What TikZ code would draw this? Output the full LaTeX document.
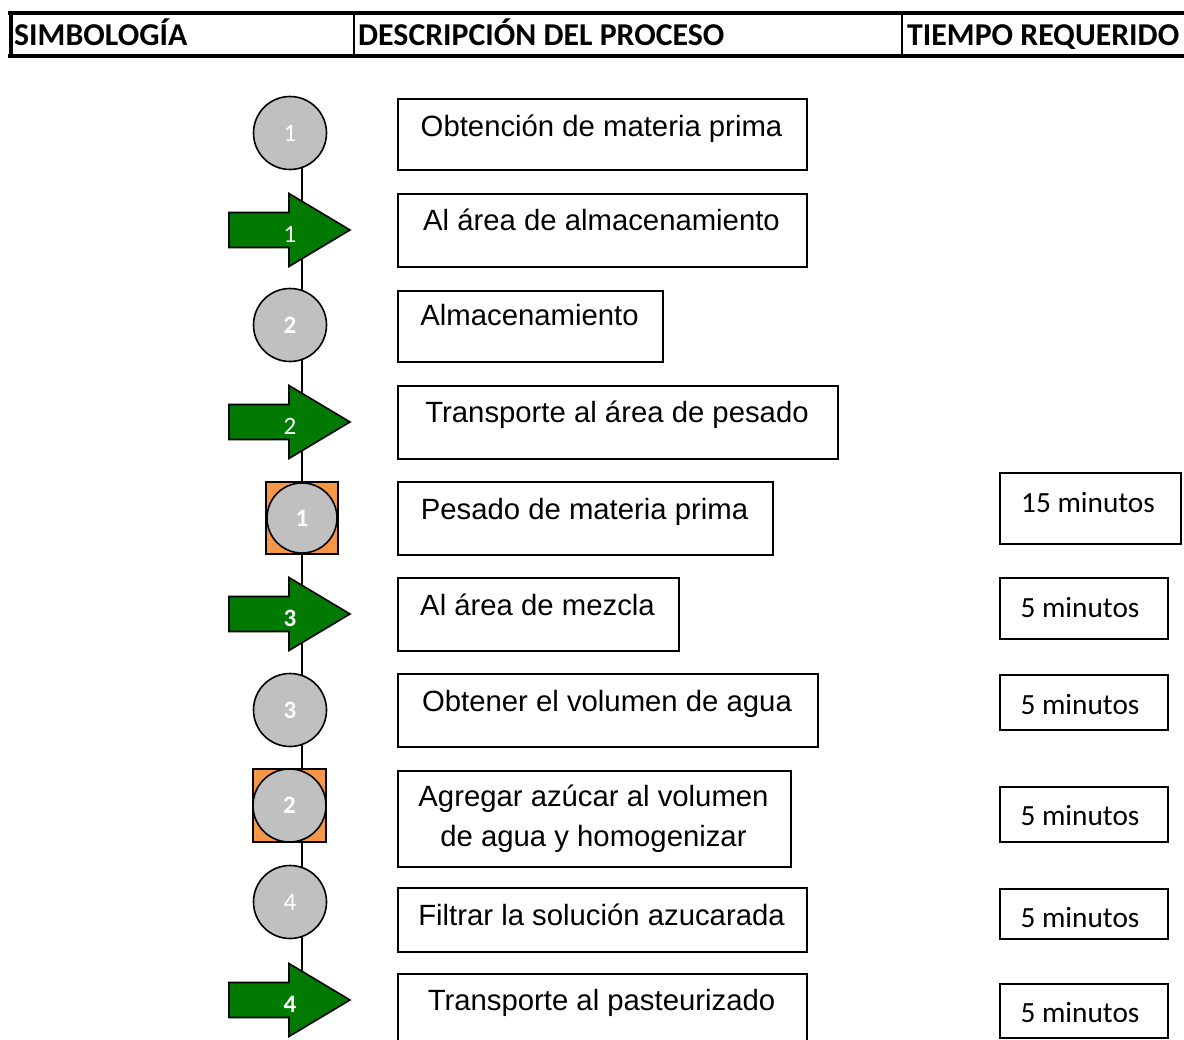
\documentclass[tikz,border=0pt]{standalone}
\usepackage{fontspec}
\setmainfont{Liberation Sans}
\newfontfamily\calib{Carlito}
\usetikzlibrary{backgrounds}
\definecolor{symgray}{RGB}{192,192,192}
\definecolor{symgreen}{RGB}{0,122,0}
\definecolor{symorange}{RGB}{247,150,70}
\tikzset{
  circsym/.style={circle, draw, line width=1.6pt, fill=symgray, minimum size=73pt, inner sep=0pt},
  sqsym/.style={rectangle, draw, line width=1.6pt, fill=symorange, minimum size=72pt, inner sep=0pt},
  numn/.style={text=white, font=\calib\fontsize{25}{25}\selectfont, inner sep=0pt},
  numb/.style={text=white, font=\calib\bfseries\fontsize{25}{25}\selectfont, inner sep=0pt},
  arrsym/.style={fill=symgreen, draw=black, line width=1.6pt, line join=miter},
  pbox/.style={draw, line width=1.6pt, rectangle, inner sep=0pt, anchor=north west},
  ptext/.style={font=\fontsize{29.3}{40}\selectfont, inner sep=0pt, anchor=base},
  ttext/.style={font=\calib\fontsize{29.3}{33}\selectfont, inner sep=0pt, anchor=base},
  htext/.style={font=\calib\bfseries\fontsize{31.8}{36}\selectfont, inner sep=0pt, anchor=base west},
  hrule/.style={line width=4pt},
  hdiv/.style={line width=2pt},
  conn/.style={line width=1.8pt}
}
\newcommand\grarrow[1]{\path[arrsym] (229,#1-17.5) -- (289,#1-17.5) -- (289,#1-36.5) -- (350,#1) -- (289,#1+36.5) -- (289,#1+17.5) -- (229,#1+17.5) -- cycle;}
\begin{document}
\begin{tikzpicture}[x=1pt,y=-1pt]
\useasboundingbox (0,0) rectangle (1184,1040);
\clip (0,0) rectangle (1184,1040);
% header
\draw[hrule] (8,13.5) -- (1184,13.5);
\draw[hrule] (8,56) -- (1184,56);
\draw[hrule] (10.5,11.5) -- (10.5,58);
\draw[hdiv] (354,15) -- (354,54);
\draw[hdiv] (902,15) -- (902,54);
\node[htext] (h1) at (14,46) {SIMBOLOGÍA};
\node[htext] (h2) at (358,46) {DESCRIPCIÓN DEL PROCESO};
\node[htext] (h3) at (907,46) {TIEMPO REQUERIDO};
% symbols
\node[circsym, numn] (s1) at (290,133) {1};
\grarrow{230}
\node[numn] (s2) at (290,234) {1};
\node[circsym, numb] (s3) at (290,325) {2};
\grarrow{422}
\node[numn] (s4) at (290,426) {2};
\node[sqsym] (q5) at (302,518) {};
\node[circsym, numb, minimum size=70pt] (s5) at (302,518) {1};
\grarrow{614}
\node[numb] (s6) at (290,618) {3};
\node[circsym, numb] (s7) at (290,710) {3};
\node[sqsym, minimum size=73pt] (q8) at (289.5,805.5) {};
\node[circsym, numb] (s8) at (289.5,805.5) {2};
\node[circsym, numn] (s9) at (290,902) {4};
\grarrow{1000}
\node[numb] (s10) at (290,1004) {4};
% connectors
\coordinate (lx) at (302,0);
\begin{scope}[on background layer]
\fill[white] (0,0) rectangle (1184,1040);
\foreach \a/\b in {s1/s2,s2/s3,s3/s4,s4/s5,s5/s6,s6/s7,s7/s8,s8/s9,s9/s10}
  \draw[conn] (lx |- \a) -- (lx |- \b);
\end{scope}
% process boxes
\node[pbox, minimum width=409pt, minimum height=71pt] (b1) at (397,98) {};
\node[ptext] (t1) at (601.5,137) {Obtención de materia prima};
\node[pbox, minimum width=409pt, minimum height=73pt] (b2) at (397,193) {};
\node[ptext] (t2) at (601.5,231) {Al área de almacenamiento};
\node[pbox, minimum width=265pt, minimum height=71pt] (b3) at (397,290) {};
\node[ptext] (t3) at (529.5,326) {Almacenamiento};
\node[pbox, minimum width=440pt, minimum height=73pt] (b4) at (397,385) {};
\node[ptext] (t4) at (617,423) {Transporte al área de pesado};
\node[pbox, minimum width=375pt, minimum height=73pt] (b5) at (397,481) {};
\node[ptext] (t5) at (584.5,519) {Pesado de materia prima};
\node[pbox, minimum width=281pt, minimum height=73pt] (b6) at (397,577) {};
\node[ptext] (t6) at (537.5,615) {Al área de mezcla};
\node[pbox, minimum width=420pt, minimum height=73pt] (b7) at (397,673) {};
\node[ptext] (t7) at (607,711) {Obtener el volumen de agua};
\node[pbox, minimum width=393pt, minimum height=96pt] (b8) at (397,770) {};
\node[ptext, align=center, anchor=center] (t8) at (593.5,819) {Agregar azúcar al volumen\\de agua y homogenizar};
\node[pbox, minimum width=409pt, minimum height=64pt] (b9) at (397,887) {};
\node[ptext] (t9) at (601.5,925) {Filtrar la solución azucarada};
\node[pbox, minimum width=409pt, minimum height=80pt] (b10) at (397,973) {};
\node[ptext] (t10) at (601.5,1010) {Transporte al pasteurizado};
% time boxes
\node[pbox, minimum width=181pt, minimum height=71pt] (r1) at (999,472) {};
\node[ttext] (u1) at (1088,512) {15 minutos};
\node[pbox, minimum width=168pt, minimum height=61pt] (r2) at (999,577) {};
\node[ttext] (u2) at (1080,617) {5 minutos};
\node[pbox, minimum width=168pt, minimum height=55pt] (r3) at (999,674) {};
\node[ttext] (u3) at (1080,714) {5 minutos};
\node[pbox, minimum width=168pt, minimum height=55pt] (r4) at (999,786) {};
\node[ttext] (u4) at (1080,825) {5 minutos};
\node[pbox, minimum width=168pt, minimum height=50pt] (r5) at (999,888) {};
\node[ttext] (u5) at (1080,927) {5 minutos};
\node[pbox, minimum width=168pt, minimum height=54pt] (r6) at (999,983) {};
\node[ttext] (u6) at (1080,1022) {5 minutos};
\end{tikzpicture}
\end{document}
